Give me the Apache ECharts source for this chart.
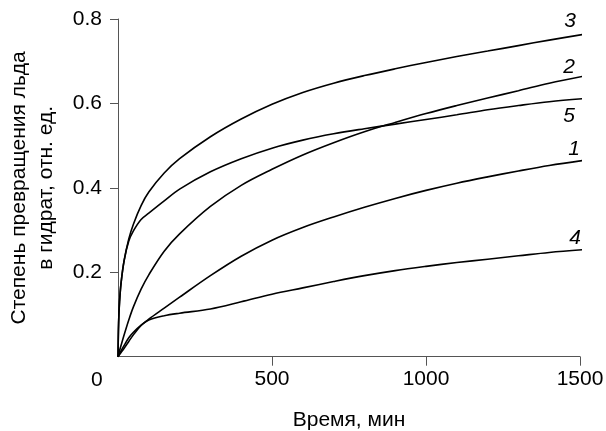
<!DOCTYPE html>
<html>
<head>
<meta charset="utf-8">
<script src="https://cdn.jsdelivr.net/npm/echarts@6/dist/echarts.min.js"></script>
<style>html,body{margin:0;padding:0;background:#fff}#c{width:606px;height:431px}</style>
</head>
<body>
<div id="c"></div>
<script>
const xTicks = [500, 1000, 1500];
const yTicks = [0.2, 0.4, 0.6, 0.8];
const curveNames = ['1', '2', '3', '4', '5'];

const x1 = [0, 5, 10, 20, 35, 50, 75, 100, 150, 200, 300, 400, 500, 600, 700, 800, 900, 1000, 1100, 1200, 1300, 1400, 1522];
const y1 = [0, 0.005, 0.010, 0.020, 0.036, 0.052, 0.074, 0.089, 0.115, 0.141, 0.192, 0.238, 0.276, 0.306, 0.331, 0.354, 0.375, 0.394, 0.411, 0.426, 0.440, 0.453, 0.466];

const x2 = [0, 5, 10, 20, 35, 50, 75, 100, 150, 200, 300, 400, 500, 600, 700, 800, 900, 1000, 1100, 1200, 1300, 1400, 1522];
const y2 = [0, 0.014, 0.027, 0.052, 0.087, 0.118, 0.160, 0.194, 0.250, 0.291, 0.356, 0.406, 0.444, 0.478, 0.507, 0.533, 0.555, 0.576, 0.595, 0.613, 0.630, 0.648, 0.666];

const x3 = [0, 2, 5, 10, 20, 35, 50, 75, 100, 150, 200, 300, 400, 500, 600, 700, 800, 900, 1000, 1100, 1200, 1300, 1400, 1522];
const y3 = [0, 0.08, 0.13, 0.175, 0.228, 0.279, 0.314, 0.358, 0.390, 0.435, 0.469, 0.521, 0.563, 0.598, 0.626, 0.648, 0.666, 0.682, 0.697, 0.711, 0.724, 0.737, 0.750, 0.765];

const x4 = [0, 5, 10, 20, 35, 50, 75, 100, 150, 200, 300, 400, 500, 600, 700, 800, 900, 1000, 1100, 1200, 1300, 1400, 1522];
const y4 = [0, 0.007, 0.014, 0.027, 0.045, 0.058, 0.075, 0.087, 0.097, 0.103, 0.113, 0.130, 0.148, 0.163, 0.178, 0.192, 0.204, 0.214, 0.223, 0.231, 0.239, 0.247, 0.254];

const x5 = [0, 2, 5, 10, 20, 35, 50, 75, 100, 150, 200, 300, 400, 500, 600, 700, 800, 900, 1000, 1100, 1200, 1300, 1400, 1522];
const y5 = [0, 0.08, 0.13, 0.175, 0.228, 0.274, 0.298, 0.325, 0.340, 0.369, 0.397, 0.438, 0.469, 0.494, 0.513, 0.528, 0.540, 0.551, 0.562, 0.573, 0.585, 0.595, 0.604, 0.612];

const labelOffsets = {'1': [-8, -12], '2': [-13, -9], '3': [-12, -13], '4': [-7, -12], '5': [-13, 17]};

const FONT = 'Liberation Sans, Arial, sans-serif';
const xs = [x1, x2, x3, x4, x5];
const ys = [y1, y2, y3, y4, y5];

const series = curveNames.map((n, i) => ({
  name: n,
  type: 'line',
  data: xs[i].map((x, j) => [x, ys[i][j]]),
  showSymbol: false,
  smooth: 0.35,
  clip: false,
  lineStyle: {color: '#000', width: 1.6},
  endLabel: {
    show: true,
    formatter: n,
    distance: 0,
    align: 'center',
    verticalAlign: 'middle',
    offset: labelOffsets[n],
    fontFamily: FONT,
    fontSize: 21,
    fontStyle: 'italic',
    color: '#000'
  },
  emphasis: {disabled: true}
}));

const chart = echarts.init(document.getElementById('c'));
chart.setOption({
  animation: false,
  grid: {left: 118, right: 26, top: 19, bottom: 74.3, containLabel: false, outerBoundsMode: 'none'},
  xAxis: {
    type: 'value', min: 0, max: 1500, interval: 500,
    name: 'Время, мин', nameLocation: 'middle', nameGap: 53,
    nameTextStyle: {fontFamily: FONT, fontSize: 21, color: '#000'},
    axisLine: {show: true, lineStyle: {color: '#555', width: 1}},
    axisTick: {show: true, length: 9, customValues: xTicks, lineStyle: {color: '#555'}},
    axisLabel: {customValues: xTicks, margin: 12, fontFamily: FONT, fontSize: 21, color: '#000',
      formatter: v => String(v)},
    splitLine: {show: false}
  },
  yAxis: {
    type: 'value', min: 0, max: 0.8, interval: 0.2,
    name: 'Степень превращения льда\nв гидрат, отн. ед.', nameLocation: 'middle', nameGap: 58, nameRotate: 90,
    nameTextStyle: {fontFamily: FONT, fontSize: 21, color: '#000', lineHeight: 27},
    axisLine: {show: true, lineStyle: {color: '#555', width: 1}},
    axisTick: {show: true, length: 8, customValues: yTicks, lineStyle: {color: '#555'}},
    axisLabel: {customValues: yTicks, margin: 16, fontFamily: FONT, fontSize: 21, color: '#000',
      formatter: v => v.toFixed(1)},
    splitLine: {show: false}
  },
  graphic: [{
    type: 'text', left: 91, top: 370,
    style: {text: '0', fontFamily: FONT, fontSize: 21, fill: '#000'}
  }],
  series: series
});
</script>
</body>
</html>
